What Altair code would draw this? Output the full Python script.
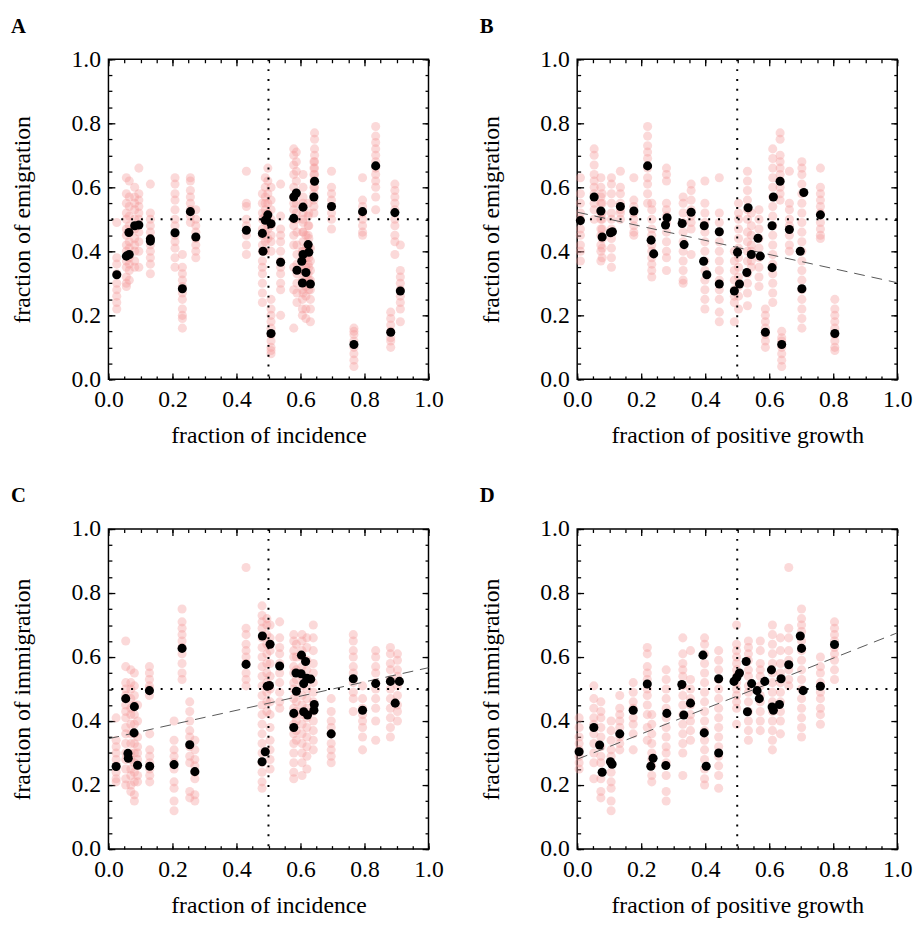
import altair as alt
import pandas as pd

FONT = "Liberation Serif, Times New Roman, Times, serif"
PINK = "#f49c9c"

LABEL_TICKS = [0.0, 0.2, 0.4, 0.6, 0.8, 1.0]
MAJOR_TICKS = [0.0, 0.2, 0.4, 0.6, 0.8, 1.0]
MINOR_TICKS = [0.0, 0.05, 0.1, 0.15, 0.2, 0.25, 0.3, 0.35, 0.4, 0.45, 0.5,
               0.55, 0.6, 0.65, 0.7, 0.75, 0.8, 0.85, 0.9, 0.95, 1.0]
REF_LINE = [0.5]

# ---------------- Panel A: incidence vs emigration ----------------
A_BLACK = [(0.026, 0.327), (0.056, 0.385), (0.065, 0.390), (0.064, 0.459), (0.082, 0.480),
           (0.095, 0.482), (0.131, 0.439), (0.131, 0.432), (0.208, 0.458), (0.231, 0.283),
           (0.256, 0.524), (0.273, 0.445), (0.431, 0.466), (0.481, 0.456), (0.483, 0.400),
           (0.490, 0.497), (0.498, 0.514), (0.508, 0.486), (0.508, 0.143), (0.538, 0.366),
           (0.579, 0.503), (0.579, 0.570), (0.587, 0.582), (0.589, 0.341), (0.608, 0.538),
           (0.604, 0.369), (0.608, 0.390), (0.606, 0.301), (0.617, 0.334), (0.624, 0.421),
           (0.626, 0.397), (0.631, 0.298), (0.642, 0.570), (0.644, 0.619), (0.697, 0.540),
           (0.767, 0.109), (0.794, 0.524), (0.835, 0.667), (0.882, 0.147), (0.895, 0.521),
           (0.912, 0.276)]
A_PINK = [
    (0.026, [0.49, 0.38, 0.36, 0.33, 0.30, 0.28, 0.26, 0.24, 0.22]),
    (0.056, [0.63, 0.58, 0.55, 0.52, 0.50, 0.47, 0.45, 0.42, 0.40, 0.37, 0.35, 0.32, 0.30, 0.29]),
    (0.065, [0.62, 0.57, 0.54, 0.51, 0.48, 0.46, 0.43, 0.41, 0.38, 0.36, 0.34, 0.31]),
    (0.082, [0.60, 0.57, 0.55, 0.53, 0.50, 0.47, 0.44, 0.42, 0.40, 0.37, 0.35]),
    (0.095, [0.66, 0.58, 0.56, 0.54, 0.52, 0.50, 0.46, 0.43, 0.40, 0.35]),
    (0.131, [0.61, 0.52, 0.50, 0.48, 0.46, 0.44, 0.42, 0.40, 0.38, 0.36, 0.33]),
    (0.208, [0.63, 0.61, 0.58, 0.56, 0.53, 0.50, 0.48, 0.45, 0.43, 0.41, 0.38, 0.35]),
    (0.231, [0.39, 0.35, 0.33, 0.31, 0.29, 0.27, 0.25, 0.22, 0.20, 0.19, 0.16]),
    (0.256, [0.63, 0.62, 0.59, 0.57, 0.55, 0.53, 0.51, 0.49]),
    (0.273, [0.53, 0.50, 0.48, 0.46, 0.44, 0.42, 0.40, 0.38]),
    (0.431, [0.65, 0.55, 0.54, 0.50, 0.48, 0.45, 0.42, 0.39]),
    (0.481, [0.58, 0.55, 0.52, 0.50, 0.47, 0.45, 0.42, 0.40, 0.37, 0.35, 0.33, 0.30, 0.27, 0.24]),
    (0.490, [0.63, 0.60, 0.57, 0.55, 0.53, 0.51, 0.49, 0.46, 0.43, 0.40]),
    (0.498, [0.66, 0.62, 0.58, 0.55, 0.52, 0.50, 0.47, 0.44]),
    (0.508, [0.60, 0.56, 0.53, 0.50, 0.48, 0.45, 0.43, 0.40]),
    (0.508, [0.25, 0.22, 0.20, 0.18, 0.16, 0.14, 0.12, 0.10, 0.09, 0.08]),
    (0.538, [0.61, 0.51, 0.47, 0.45, 0.43, 0.40, 0.37, 0.35, 0.33, 0.30, 0.28, 0.20]),
    (0.579, [0.72, 0.70, 0.67, 0.64, 0.60, 0.57, 0.55, 0.53, 0.50, 0.48, 0.45, 0.42, 0.35, 0.28, 0.16]),
    (0.587, [0.71, 0.68, 0.65, 0.62, 0.58, 0.55, 0.52, 0.50]),
    (0.589, [0.46, 0.42, 0.39, 0.36, 0.33, 0.30, 0.27, 0.24]),
    (0.606, [0.40, 0.37, 0.34, 0.31, 0.28, 0.25, 0.22, 0.20]),
    (0.608, [0.64, 0.60, 0.57, 0.55, 0.52, 0.49, 0.46]),
    (0.608, [0.50, 0.46, 0.43, 0.40, 0.37, 0.34, 0.30, 0.27]),
    (0.617, [0.45, 0.41, 0.38, 0.35, 0.32, 0.29, 0.26, 0.22, 0.19]),
    (0.624, [0.55, 0.51, 0.48, 0.45, 0.42, 0.39, 0.36, 0.33, 0.30]),
    (0.626, [0.52, 0.48, 0.44, 0.41, 0.38, 0.35, 0.31, 0.28]),
    (0.631, [0.41, 0.37, 0.34, 0.31, 0.28, 0.25, 0.22, 0.18]),
    (0.642, [0.68, 0.66, 0.64, 0.62, 0.60, 0.58, 0.56, 0.54, 0.52]),
    (0.644, [0.77, 0.75, 0.72, 0.70, 0.68, 0.66, 0.64, 0.62, 0.60]),
    (0.697, [0.65, 0.60, 0.58, 0.56, 0.54, 0.52, 0.50, 0.47]),
    (0.767, [0.16, 0.15, 0.14, 0.12, 0.10, 0.08, 0.06, 0.04]),
    (0.794, [0.63, 0.56, 0.54, 0.52, 0.50, 0.48, 0.46, 0.45]),
    (0.835, [0.79, 0.76, 0.74, 0.72, 0.70, 0.68, 0.66, 0.64, 0.62, 0.60, 0.57, 0.53]),
    (0.882, [0.21, 0.19, 0.17, 0.15, 0.13, 0.12, 0.10]),
    (0.895, [0.61, 0.59, 0.57, 0.55, 0.53, 0.50, 0.48, 0.45, 0.43, 0.39]),
    (0.912, [0.42, 0.34, 0.32, 0.30, 0.28, 0.26, 0.24, 0.22, 0.18]),
]

# ---------------- Panel B: positive growth vs emigration ----------------
B_BLACK = [(0.010, 0.496), (0.053, 0.570), (0.074, 0.526), (0.078, 0.445), (0.104, 0.458),
           (0.110, 0.461), (0.135, 0.540), (0.177, 0.526), (0.220, 0.667), (0.231, 0.435),
           (0.239, 0.392), (0.276, 0.482), (0.281, 0.505), (0.328, 0.487), (0.334, 0.421),
           (0.356, 0.522), (0.395, 0.369), (0.397, 0.480), (0.405, 0.327), (0.444, 0.461),
           (0.444, 0.298), (0.491, 0.276), (0.501, 0.397), (0.507, 0.298), (0.530, 0.334),
           (0.534, 0.536), (0.544, 0.390), (0.565, 0.441), (0.572, 0.385), (0.588, 0.147),
           (0.609, 0.480), (0.609, 0.349), (0.613, 0.570), (0.634, 0.619), (0.639, 0.109),
           (0.663, 0.468), (0.697, 0.400), (0.702, 0.283), (0.708, 0.584), (0.760, 0.514),
           (0.805, 0.143)]
B_PINK = [
    (0.010, [0.63, 0.58, 0.55, 0.52, 0.50, 0.47, 0.45, 0.42, 0.40, 0.37]),
    (0.053, [0.72, 0.70, 0.67, 0.64, 0.62, 0.60, 0.58, 0.55, 0.53, 0.50]),
    (0.074, [0.63, 0.60, 0.57, 0.55, 0.52, 0.50, 0.47, 0.45, 0.42, 0.40, 0.37]),
    (0.078, [0.58, 0.55, 0.52, 0.50, 0.47, 0.44, 0.41, 0.38]),
    (0.107, [0.63, 0.61, 0.58, 0.55, 0.52, 0.50, 0.47, 0.44, 0.41, 0.38, 0.35]),
    (0.135, [0.65, 0.60, 0.58, 0.55, 0.53, 0.52, 0.50]),
    (0.177, [0.63, 0.56, 0.54, 0.52, 0.50, 0.48, 0.46, 0.45]),
    (0.220, [0.79, 0.76, 0.73, 0.71, 0.69, 0.66, 0.63, 0.61, 0.58, 0.55]),
    (0.233, [0.55, 0.53, 0.50, 0.47, 0.45, 0.42, 0.40, 0.38, 0.36, 0.34, 0.32]),
    (0.279, [0.66, 0.64, 0.62, 0.55, 0.53, 0.51, 0.49, 0.46, 0.43, 0.40, 0.38, 0.34]),
    (0.331, [0.57, 0.55, 0.52, 0.49, 0.46, 0.43, 0.40, 0.37, 0.34, 0.31, 0.30]),
    (0.356, [0.61, 0.59, 0.56, 0.53, 0.51, 0.49, 0.47, 0.39]),
    (0.399, [0.62, 0.55, 0.52, 0.49, 0.46, 0.43, 0.40, 0.37, 0.34, 0.31, 0.28, 0.25, 0.22]),
    (0.444, [0.63, 0.52, 0.49, 0.46, 0.43, 0.40, 0.37, 0.34, 0.31, 0.28, 0.25, 0.21, 0.18]),
    (0.491, [0.40, 0.37, 0.34, 0.31, 0.28, 0.26, 0.24, 0.18]),
    (0.504, [0.55, 0.52, 0.50, 0.47, 0.44, 0.41, 0.38, 0.35, 0.32, 0.29, 0.26, 0.22]),
    (0.532, [0.65, 0.62, 0.59, 0.56, 0.53, 0.50, 0.46, 0.43, 0.40, 0.37, 0.33, 0.30, 0.27, 0.23]),
    (0.544, [0.52, 0.48, 0.45, 0.42, 0.40, 0.37, 0.35]),
    (0.568, [0.53, 0.50, 0.47, 0.44, 0.41, 0.38, 0.35, 0.32, 0.29]),
    (0.588, [0.22, 0.20, 0.18, 0.16, 0.14, 0.12, 0.10]),
    (0.611, [0.72, 0.69, 0.66, 0.63, 0.60, 0.57, 0.54, 0.51, 0.48, 0.45, 0.42, 0.39, 0.36, 0.33,
             0.30, 0.27, 0.24]),
    (0.634, [0.77, 0.75, 0.70, 0.68, 0.66, 0.64, 0.62, 0.60, 0.58, 0.56]),
    (0.639, [0.15, 0.13, 0.12, 0.10, 0.08, 0.06, 0.04]),
    (0.663, [0.65, 0.55, 0.53, 0.50, 0.48, 0.45, 0.42, 0.40]),
    (0.702, [0.68, 0.66, 0.64, 0.61, 0.58, 0.55, 0.52, 0.49, 0.46, 0.43, 0.40, 0.37, 0.34, 0.31,
             0.28, 0.25, 0.22, 0.19, 0.16]),
    (0.760, [0.66, 0.60, 0.58, 0.56, 0.54, 0.52, 0.49, 0.47, 0.45, 0.44]),
    (0.805, [0.25, 0.22, 0.20, 0.18, 0.16, 0.14, 0.12, 0.10, 0.09]),
]

# ---------------- Panel C: incidence vs immigration ----------------
C_BLACK = [(0.024, 0.258), (0.054, 0.470), (0.061, 0.299), (0.062, 0.284), (0.081, 0.445),
           (0.080, 0.363), (0.091, 0.262), (0.128, 0.495), (0.129, 0.259), (0.205, 0.264),
           (0.230, 0.627), (0.254, 0.326), (0.270, 0.242), (0.430, 0.577), (0.480, 0.273),
           (0.481, 0.666), (0.490, 0.304), (0.496, 0.509), (0.505, 0.640), (0.503, 0.511),
           (0.535, 0.572), (0.579, 0.424), (0.579, 0.380), (0.587, 0.493), (0.586, 0.550),
           (0.603, 0.606), (0.616, 0.586), (0.602, 0.548), (0.610, 0.517), (0.620, 0.534),
           (0.632, 0.531), (0.610, 0.429), (0.622, 0.419), (0.642, 0.434), (0.643, 0.452),
           (0.696, 0.360), (0.765, 0.532), (0.794, 0.434), (0.835, 0.517), (0.881, 0.524),
           (0.896, 0.456), (0.909, 0.524)]
C_PINK = [
    (0.024, [0.41, 0.34, 0.32, 0.30, 0.28, 0.26, 0.24, 0.22, 0.21]),
    (0.054, [0.65, 0.57, 0.52, 0.50, 0.48, 0.45, 0.43, 0.41, 0.38, 0.36, 0.33, 0.30, 0.28, 0.25,
             0.22, 0.20]),
    (0.070, [0.56, 0.52, 0.50, 0.47, 0.44, 0.42, 0.39, 0.36, 0.33, 0.30, 0.28, 0.25, 0.23, 0.20, 0.18]),
    (0.081, [0.55, 0.51, 0.48, 0.45, 0.42, 0.39, 0.36, 0.33, 0.30, 0.27, 0.24, 0.21, 0.17, 0.15]),
    (0.091, [0.45, 0.40, 0.35, 0.32, 0.30, 0.28, 0.26, 0.23, 0.21]),
    (0.128, [0.57, 0.55, 0.53, 0.51, 0.50, 0.48]),
    (0.129, [0.36, 0.31, 0.29, 0.27, 0.25, 0.23, 0.21]),
    (0.205, [0.40, 0.34, 0.31, 0.29, 0.27, 0.25, 0.21, 0.19, 0.15, 0.12]),
    (0.230, [0.75, 0.71, 0.69, 0.67, 0.65, 0.63, 0.61, 0.58, 0.55, 0.53]),
    (0.254, [0.46, 0.43, 0.40, 0.37, 0.35, 0.32, 0.29, 0.27, 0.18, 0.16]),
    (0.270, [0.34, 0.31, 0.28, 0.26, 0.24, 0.22, 0.17, 0.15]),
    (0.430, [0.88, 0.69, 0.67, 0.64, 0.62, 0.60, 0.58, 0.55, 0.53, 0.51]),
    (0.480, [0.76, 0.73, 0.71, 0.69, 0.66, 0.63, 0.60, 0.57, 0.54, 0.51, 0.48, 0.45, 0.42, 0.39,
             0.36, 0.33, 0.30, 0.27, 0.24, 0.21, 0.19]),
    (0.495, [0.72, 0.70, 0.67, 0.64, 0.61, 0.58, 0.55, 0.52, 0.49, 0.46, 0.43]),
    (0.505, [0.70, 0.66, 0.62, 0.58, 0.54, 0.50, 0.46, 0.42, 0.38, 0.34, 0.31, 0.28, 0.25]),
    (0.535, [0.71, 0.66, 0.63, 0.61, 0.58, 0.55, 0.52, 0.49, 0.46, 0.44]),
    (0.579, [0.67, 0.65, 0.62, 0.60, 0.57, 0.55, 0.52, 0.50, 0.47, 0.44, 0.42, 0.39, 0.36, 0.33,
             0.30, 0.27, 0.24, 0.22]),
    (0.587, [0.64, 0.60, 0.56, 0.53, 0.49, 0.46, 0.43, 0.40, 0.37, 0.34]),
    (0.605, [0.67, 0.65, 0.62, 0.60, 0.57, 0.54, 0.51, 0.48, 0.45, 0.42, 0.39, 0.36, 0.33, 0.30,
             0.27, 0.23]),
    (0.620, [0.66, 0.63, 0.59, 0.56, 0.53, 0.50, 0.47, 0.44, 0.41, 0.38, 0.35, 0.32, 0.29, 0.25]),
    (0.640, [0.70, 0.66, 0.62, 0.58, 0.55, 0.52, 0.49, 0.46, 0.43, 0.40, 0.37, 0.34, 0.31]),
    (0.696, [0.47, 0.43, 0.40, 0.38, 0.36, 0.33, 0.31, 0.29, 0.27]),
    (0.765, [0.67, 0.65, 0.62, 0.60, 0.57, 0.55, 0.52, 0.49, 0.47, 0.43]),
    (0.794, [0.51, 0.47, 0.44, 0.42, 0.40, 0.38, 0.35, 0.31]),
    (0.835, [0.62, 0.60, 0.57, 0.55, 0.52, 0.50, 0.47, 0.44, 0.40, 0.34]),
    (0.881, [0.63, 0.61, 0.58, 0.56, 0.53, 0.50, 0.47, 0.44, 0.41, 0.38, 0.35]),
    (0.903, [0.61, 0.59, 0.56, 0.54, 0.51, 0.48, 0.45, 0.43, 0.40]),
]

# ---------------- Panel D: positive growth vs immigration ----------------
D_BLACK = [(0.006, 0.304), (0.052, 0.380), (0.070, 0.325), (0.078, 0.240), (0.104, 0.273),
           (0.109, 0.265), (0.133, 0.360), (0.175, 0.434), (0.219, 0.516), (0.230, 0.259),
           (0.237, 0.284), (0.277, 0.261), (0.280, 0.424), (0.327, 0.514), (0.333, 0.419),
           (0.354, 0.456), (0.393, 0.606), (0.397, 0.363), (0.403, 0.259), (0.442, 0.532),
           (0.442, 0.300), (0.490, 0.524), (0.499, 0.537), (0.507, 0.550), (0.528, 0.586),
           (0.532, 0.429), (0.545, 0.517), (0.562, 0.495), (0.569, 0.470), (0.586, 0.524),
           (0.607, 0.560), (0.609, 0.444), (0.613, 0.434), (0.632, 0.452), (0.637, 0.532),
           (0.661, 0.576), (0.697, 0.666), (0.701, 0.627), (0.706, 0.495), (0.760, 0.509),
           (0.804, 0.639)]
D_PINK = [
    (0.006, [0.41, 0.38, 0.35, 0.33, 0.31, 0.29, 0.27, 0.25]),
    (0.052, [0.51, 0.47, 0.44, 0.41, 0.39, 0.36, 0.33, 0.30, 0.27, 0.22]),
    (0.074, [0.46, 0.43, 0.41, 0.38, 0.35, 0.32, 0.29, 0.27, 0.22, 0.18, 0.16]),
    (0.106, [0.40, 0.37, 0.34, 0.31, 0.29, 0.27, 0.24, 0.21, 0.19, 0.15, 0.12]),
    (0.133, [0.48, 0.44, 0.42, 0.40, 0.38, 0.35, 0.33, 0.31]),
    (0.175, [0.52, 0.49, 0.46, 0.44, 0.41, 0.39, 0.36, 0.31]),
    (0.219, [0.63, 0.61, 0.57, 0.55, 0.53, 0.50, 0.48, 0.45, 0.42, 0.38, 0.34]),
    (0.233, [0.42, 0.39, 0.36, 0.33, 0.30, 0.28, 0.26, 0.23, 0.21]),
    (0.278, [0.56, 0.53, 0.50, 0.47, 0.44, 0.41, 0.38, 0.35, 0.32, 0.30, 0.27, 0.23, 0.18, 0.15]),
    (0.330, [0.66, 0.61, 0.58, 0.56, 0.54, 0.51, 0.48, 0.45, 0.42, 0.39, 0.36, 0.33, 0.30, 0.23]),
    (0.354, [0.62, 0.53, 0.50, 0.47, 0.45, 0.42, 0.40, 0.37, 0.34]),
    (0.398, [0.66, 0.64, 0.61, 0.58, 0.55, 0.52, 0.49, 0.46, 0.43, 0.40, 0.37, 0.34, 0.31, 0.28,
             0.25, 0.22, 0.20]),
    (0.442, [0.62, 0.59, 0.56, 0.53, 0.50, 0.47, 0.44, 0.41, 0.38, 0.35, 0.32, 0.29, 0.26, 0.23, 0.19]),
    (0.498, [0.70, 0.64, 0.62, 0.60, 0.58, 0.56, 0.54, 0.52, 0.50, 0.48, 0.46, 0.44, 0.39]),
    (0.535, [0.65, 0.63, 0.61, 0.59, 0.56, 0.54, 0.51, 0.49, 0.46, 0.43, 0.40, 0.37, 0.34]),
    (0.572, [0.65, 0.62, 0.58, 0.56, 0.54, 0.51, 0.48, 0.46, 0.43, 0.40, 0.37]),
    (0.610, [0.70, 0.67, 0.64, 0.61, 0.58, 0.55, 0.52, 0.49, 0.46, 0.43, 0.40, 0.37, 0.34, 0.31]),
    (0.635, [0.66, 0.62, 0.58, 0.55, 0.52, 0.49, 0.46, 0.43, 0.40, 0.36]),
    (0.661, [0.88, 0.69, 0.66, 0.62, 0.59, 0.56, 0.53, 0.51]),
    (0.701, [0.75, 0.72, 0.70, 0.68, 0.65, 0.62, 0.59, 0.56, 0.53, 0.50, 0.47, 0.44, 0.41, 0.38, 0.35]),
    (0.760, [0.60, 0.57, 0.55, 0.52, 0.49, 0.47, 0.44, 0.42, 0.39]),
    (0.804, [0.71, 0.69, 0.67, 0.65, 0.63, 0.61, 0.59, 0.56, 0.53]),
]

W = 325
H = 325


def panel(letter, black, pink, xtitle, ytitle, with_reg):
    bdf = pd.DataFrame(black, columns=["x", "y"])
    pdf = pd.DataFrame([(x, y) for x, ys in pink for y in ys], columns=["x", "y"])
    ref = pd.DataFrame({"v": REF_LINE})
    sc = alt.Scale(domain=[0, 1], nice=False, zero=False)

    pink_layer = alt.Chart(pdf).mark_circle(size=85, color=PINK, opacity=0.38).encode(
        x=alt.X("x:Q", scale=sc, title=xtitle,
                axis=alt.Axis(orient="bottom", values=LABEL_TICKS, format=".1f", ticks=False,
                              domain=False, grid=False, labelPadding=9, titlePadding=12,
                              labelFlush=False, labelOverlap=False)),
        y=alt.Y("y:Q", scale=sc, title=ytitle,
                axis=alt.Axis(orient="left", values=LABEL_TICKS, format=".1f", ticks=False,
                              domain=False, grid=False, labelPadding=8, titlePadding=37,
                              labelFlush=False, labelOverlap=False)),
    )

    hline = alt.Chart(ref).mark_rule(color="black", strokeDash=[2, 8], strokeWidth=2).encode(
        y=alt.Y("v:Q", scale=sc, axis=None))
    vline = alt.Chart(ref).mark_rule(color="black", strokeDash=[2, 8], strokeWidth=2).encode(
        x=alt.X("v:Q", scale=sc, axis=None))

    black_layer = alt.Chart(bdf).mark_circle(size=85, color="black", opacity=1).encode(
        x=alt.X("x:Q", scale=sc, axis=None),
        y=alt.Y("y:Q", scale=sc, axis=None),
    )

    def tick_layer(xo, yo, vals, size):
        return alt.Chart(bdf).mark_point(opacity=0).encode(
            x=alt.X("x:Q", scale=sc, title=None,
                    axis=alt.Axis(orient=xo, values=vals, tickSize=size, offset=-size,
                                  labels=False, domain=False, grid=False, ticks=True,
                                  tickColor="black", tickWidth=1.3)),
            y=alt.Y("y:Q", scale=sc, title=None,
                    axis=alt.Axis(orient=yo, values=vals, tickSize=size, offset=-size,
                                  labels=False, domain=False, grid=False, ticks=True,
                                  tickColor="black", tickWidth=1.3)),
        )

    layers = [pink_layer, hline, vline]
    if with_reg:
        reg = alt.Chart(bdf).transform_regression("x", "y", extent=[0, 1]).mark_line(
            color="#555555", strokeDash=[11, 7], strokeWidth=1).encode(
            x=alt.X("x:Q", scale=sc, axis=None),
            y=alt.Y("y:Q", scale=sc, axis=None))
        layers.append(reg)
    layers += [black_layer,
               tick_layer("bottom", "left", MINOR_TICKS, 3.5),
               tick_layer("bottom", "left", MAJOR_TICKS, 6.5),
               tick_layer("top", "right", MINOR_TICKS, 3.5),
               tick_layer("top", "right", MAJOR_TICKS, 6.5)]
    return alt.layer(*layers).resolve_axis(x="independent", y="independent").properties(
        width=W, height=H,
        title=alt.TitleParams(letter, anchor="start", font=FONT, fontSize=21,
                              fontWeight="bold", color="black", offset=11))


pA = panel("A", A_BLACK, A_PINK, "fraction of incidence", "fraction of emigration", False)
pB = panel("B", B_BLACK, B_PINK, "fraction of positive growth", "fraction of emigration", True)
pC = panel("C", C_BLACK, C_PINK, "fraction of incidence", "fraction of immigration", True)
pD = panel("D", D_BLACK, D_PINK, "fraction of positive growth", "fraction of immigration", True)

chart = alt.vconcat(
    alt.hconcat(pA, pB, spacing=35),
    alt.hconcat(pC, pD, spacing=35),
    spacing=37,
).configure_view(stroke="black", strokeWidth=1.5).configure_axis(
    labelFont=FONT, labelFontSize=24, labelColor="black",
    titleFont=FONT, titleFontSize=24, titleFontWeight="normal", titleColor="black",
).properties(padding={"left": 2, "top": 0, "right": 0, "bottom": 0}, background="white")

chart.save("out.html", embed_options={"renderer": "svg", "actions": False})
